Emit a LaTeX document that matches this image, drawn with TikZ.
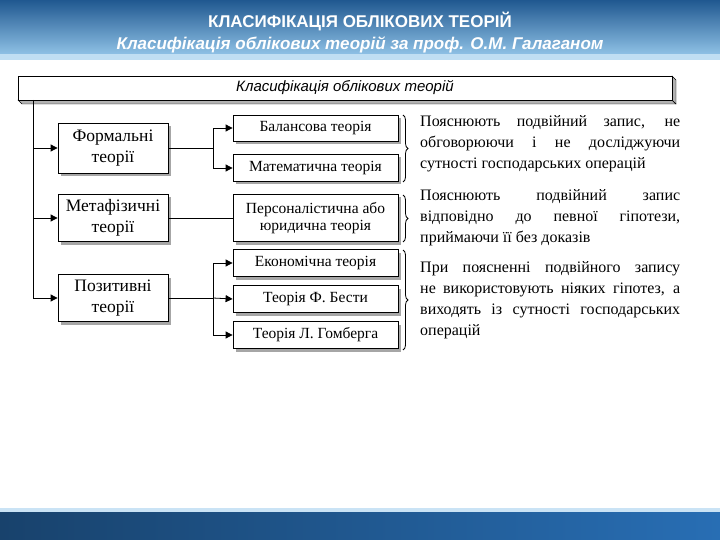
\documentclass[tikz,border=0pt]{standalone}
\usepackage{fontspec}
\setmainfont{Liberation Serif}
\newfontfamily\hsans{Liberation Sans}
\usetikzlibrary{arrows.meta,decorations.pathreplacing}
\definecolor{hblue}{RGB}{40,110,180}
\definecolor{lblue}{RGB}{150,200,235}
\tikzset{x=1pt,y=-1pt,
 box/.style={draw,thick,fill=white,align=center,inner sep=0pt,font=\fontsize{15.5}{17}\selectfont},
 lbox/.style={box,font=\fontsize{17.5}{21}\selectfont},
 shad/.style={fill=gray!70},
 arr/.style={thick,-{Triangle[length=7pt,width=7pt]}},
 ln/.style={thick},
 desc/.style={anchor=north west,text width=260pt,align=justify,inner sep=0pt,font=\fontsize{16}{21}\selectfont},
 br/.style={thick,decorate,decoration={brace,amplitude=5pt}}}
\begin{document}
\begin{tikzpicture}
\useasboundingbox (0,0) rectangle (720,540);
\fill[white] (0,0) rectangle (720,540);
\shade[top color=hblue!80!black,bottom color=lblue] (0,0) rectangle (720,58);
\fill[lblue!60] (0,54) rectangle (720,60);
\shade[left color=hblue!60!black,right color=hblue] (0,512) rectangle (720,540);
\fill[lblue!50] (0,508) rectangle (720,512);
\node[font=\hsans\bfseries\fontsize{17}{19}\selectfont,text=white] (t1) at (360,22) {КЛАСИФІКАЦІЯ ОБЛІКОВИХ ТЕОРІЙ};
\node[font=\hsans\bfseries\itshape\fontsize{17}{19}\selectfont,text=white] (t2) at (360,45) {Класифікація облікових теорій за проф. О.М. Галаганом};
\fill[gray!60,draw=black] (18,100) -- (22,104) -- (676,104) -- (672,100) -- cycle;
\fill[gray!60,draw=black] (672,76) -- (676,80) -- (676,104) -- (672,100) -- cycle;
\node[draw,thick,fill=white,minimum width=654pt,minimum height=24pt,inner sep=0pt,font=\hsans\itshape\fontsize{15}{17}\selectfont] (top) at (345,88) {Класифікація облікових теорій};
\foreach \n/\y/\h/\t in {f/148/50/{Формальні\\теорії},m/218/47/{Метафізичні\\теорії},p/298/47/{Позитивні\\теорії}}{
 \fill[shad] (61,\y-\h/2+3) rectangle (171,\y+\h/2+3);
 \node[lbox,minimum width=110pt,minimum height=\h pt] (\n) at (113,\y) {\t};}
\foreach \n/\y/\h/\t in {b/128/26/{Балансова теорія},ma/168/27/{Математична теорія},pe/218/47/{Персоналістична або\\юридична теорія},e/263/27/{Економічна теорія},be/299/27/{Теорія Ф. Бести},g/335/27/{Теорія Л. Гомберга}}{
 \fill[shad] (236,\y-\h/2+3) rectangle (401,\y+\h/2+3);
 \node[box,minimum width=165pt,minimum height=\h pt] (\n) at (315.5,\y) {\t};}
\coordinate (v0) at (33,100);
\coordinate (v1) at (33,298);
\draw[ln] (v0) -- (v1);
\draw[arr] (33,148) -- (f.west);
\draw[arr] (33,218) -- (m.west);
\draw[arr] (v1) -- (p.west);
\coordinate (fj) at (213,148);
\draw[ln] (f.east) -- (fj);
\draw[arr] (fj) |- (b.west);
\draw[arr] (fj) |- (ma.west);
\draw[ln] (m.east) -- (pe.west);
\coordinate (pj) at (213,298);
\draw[ln] (p.east) -- (pj);
\draw[arr] (pj) |- (e.west);
\draw[arr] (pj) -- (be.west);
\draw[arr] (pj) |- (g.west);
\draw[br] (403,115) -- (403,182);
\draw[br] (403,195) -- (403,242);
\draw[br] (403,250) -- (403,350);
\node[desc] (d1) at (420,115) {Пояснюють подвійний запис, не обговорюючи і не досліджуючи сутності господарських операцій};
\node[desc] (d2) at (420,189) {Пояснюють подвійний запис відповідно до певної гіпотези, приймаючи її без доказів};
\node[desc] (d3) at (420,261) {При поясненні подвійного запису не використовують ніяких гіпотез, а виходять із сутності господарських операцій};
\end{tikzpicture}
\end{document}
